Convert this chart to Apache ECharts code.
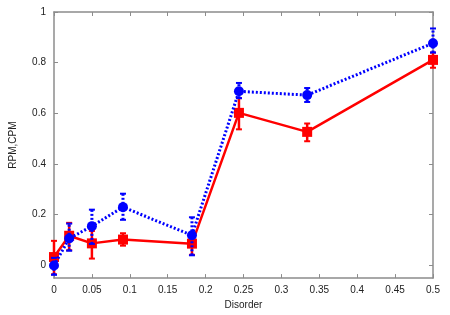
<!DOCTYPE html>
<html><head><meta charset="utf-8">
<script src="https://cdn.jsdelivr.net/npm/echarts@6/dist/echarts.min.js"></script>
<style>html,body{margin:0;padding:0;background:#fff}#c{width:450px;height:315px}</style>
</head><body><div id="c"></div>
<script>
var disorder = [0, 0.02, 0.05, 0.091, 0.182, 0.244, 0.334, 0.5];
var rpm = [0, 0.106, 0.155, 0.23, 0.119, 0.687, 0.672, 0.877];
var rpmLow = [-0.037, 0.058, 0.085, 0.18, 0.04, 0.66, 0.645, 0.84];
var rpmHigh = [0.03, 0.165, 0.22, 0.283, 0.19, 0.72, 0.70, 0.935];
var cpm = [0.033, 0.117, 0.087, 0.102, 0.086, 0.602, 0.527, 0.811];
var cpmLow = [-0.035, 0.06, 0.027, 0.078, 0.042, 0.537, 0.49, 0.78];
var cpmHigh = [0.097, 0.168, 0.136, 0.127, 0.11, 0.66, 0.56, 0.84];
var yTicks = [0, 0.2, 0.4, 0.6, 0.8, 1];
var xTicks = [0, 0.05, 0.1, 0.15, 0.2, 0.25, 0.3, 0.35, 0.4, 0.45, 0.5];

function pairs(xs, ys){ return xs.map(function(x,i){return [x, ys[i]];}); }
function bars(xs, lo, hi){ return xs.map(function(x,i){return [x, lo[i], hi[i]];}); }
function errRender(color, dash){
  return function(params, api){
    var x = api.value(0), lo = api.value(1), hi = api.value(2);
    var p1 = api.coord([x, lo]), p2 = api.coord([x, hi]);
    var w = 3;
    var st = {stroke: color, lineWidth: dash ? 3 : 2.5, lineDash: dash ? [2,2] : null};
    var stc = {stroke: color, lineWidth: 2};
    return {type:'group', children:[
      {type:'line', shape:{x1:p1[0],y1:p1[1],x2:p2[0],y2:p2[1]}, style:st},
      {type:'line', shape:{x1:p1[0]-w,y1:p1[1],x2:p1[0]+w,y2:p1[1]}, style:stc},
      {type:'line', shape:{x1:p2[0]-w,y1:p2[1],x2:p2[0]+w,y2:p2[1]}, style:stc}
    ]};
  };
}
var axisGray = '#8c8c8c';
var chart = echarts.init(document.getElementById('c'));
chart.setOption({
  animation:false,
  grid:{left:51, right:17, top:12, bottom:30, show:false},
  xAxis:[{
    type:'value', min:0, max:0.5, interval:0.05, position:'bottom',
    name:'Disorder', nameLocation:'middle', nameGap:20,
    nameTextStyle:{fontFamily:'Liberation Sans', fontSize:10, color:'#222'},
    axisLine:{show:true, onZero:false, lineStyle:{color:axisGray, width:1.5}},
    axisTick:{show:true, inside:true, length:4, lineStyle:{color:axisGray}},
    axisLabel:{fontFamily:'Liberation Sans', fontSize:10, color:'#222', margin:7,
      formatter:function(v){return String(+v.toFixed(2));}},
    splitLine:{show:false}
  },{
    type:'value', min:0, max:0.5, interval:0.05, position:'top',
    axisLine:{show:true, onZero:false, lineStyle:{color:axisGray, width:1.5}},
    axisTick:{show:true, inside:true, length:4, lineStyle:{color:axisGray}},
    axisLabel:{show:false}, splitLine:{show:false}
  }],
  yAxis:[{
    type:'value', min:-0.05, max:1, position:'left',
    name:'RPM,CPM', nameLocation:'middle', nameGap:36, nameRotate:90,
    nameTextStyle:{fontFamily:'Liberation Sans', fontSize:10, color:'#222'},
    axisLine:{show:true, onZero:false, lineStyle:{color:axisGray, width:1.5}},
    axisTick:{show:true, inside:true, length:4, customValues:yTicks, lineStyle:{color:axisGray}},
    axisLabel:{fontFamily:'Liberation Sans', fontSize:10, color:'#222', margin:8, customValues:yTicks,
      formatter:function(v){return String(+v.toFixed(2));}},
    splitLine:{show:false}
  },{
    type:'value', min:-0.05, max:1, position:'right',
    axisLine:{show:true, onZero:false, lineStyle:{color:axisGray, width:1.5}},
    axisTick:{show:true, inside:true, length:4, customValues:yTicks, lineStyle:{color:axisGray}},
    axisLabel:{show:false}, splitLine:{show:false}
  }],
  series:[
    {type:'custom', name:'CPM err', data:bars(disorder, cpmLow, cpmHigh), renderItem:errRender('#ff0000', false), z:2},
    {type:'line', name:'CPM', data:pairs(disorder, cpm), symbol:'rect', symbolSize:10,
      lineStyle:{color:'#ff0000', width:2.5}, itemStyle:{color:'#ff0000'}, z:3},
    {type:'custom', name:'RPM err', data:bars(disorder, rpmLow, rpmHigh), renderItem:errRender('#0000ff', true), z:4},
    {type:'line', name:'RPM', data:pairs(disorder, rpm), symbol:'circle', symbolSize:10,
      lineStyle:{color:'#0000ff', width:3, type:[2,2]}, itemStyle:{color:'#0000ff'}, z:5}
  ]
});
</script></body></html>
